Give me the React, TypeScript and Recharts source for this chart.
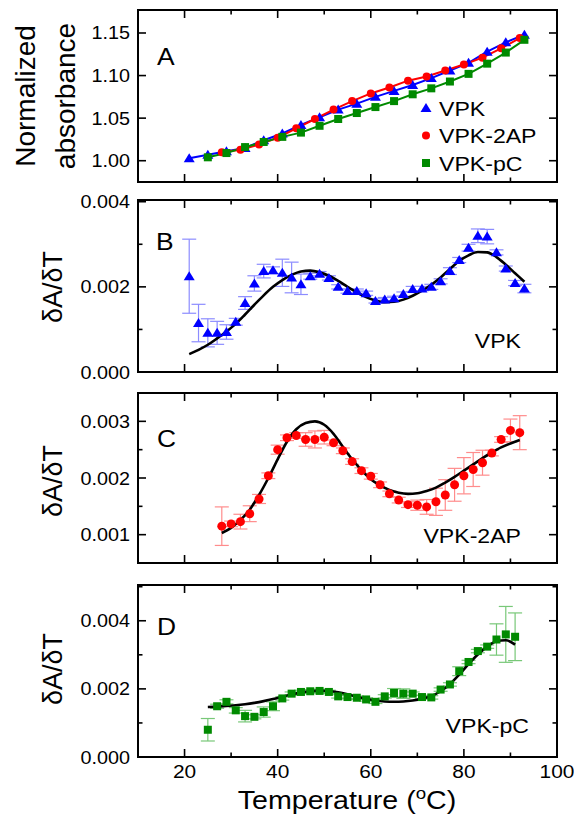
import React from "react";
import { ComposedChart, Line, Scatter, XAxis, YAxis, ErrorBar } from "recharts";

const W = 574;
const H = 817;
const PL = 138; // frame left
const PR = 557; // frame right
const FONT = "'Liberation Sans', Arial, Helvetica, sans-serif";
const STRETCH = 1.1; // the original lettering is a bit wide

// ---- A: normalized absorbance
const tempA_VPK = [21, 25, 29, 33, 37, 41, 45, 49, 53, 57, 61, 65, 69, 73, 77, 81, 85, 89, 93];
const absA_VPK = [1.003, 1.007, 1.011, 1.015, 1.024, 1.032, 1.042, 1.051, 1.06, 1.067, 1.075, 1.082, 1.089, 1.097, 1.106, 1.115, 1.128, 1.139, 1.148];
const tempA_2AP = [28, 32, 36, 40, 44, 48, 52, 56, 60, 64, 68, 72, 76, 80, 84, 88, 92];
const absA_2AP = [1.01, 1.013, 1.019, 1.027, 1.038, 1.049, 1.06, 1.07, 1.079, 1.086, 1.094, 1.099, 1.106, 1.113, 1.121, 1.132, 1.144];
const tempA_pC = [25, 29, 33, 37, 41, 45, 49, 53, 57, 61, 65, 69, 73, 77, 81, 85, 89, 93];
const absA_pC = [1.004, 1.009, 1.016, 1.022, 1.028, 1.033, 1.041, 1.049, 1.056, 1.063, 1.07, 1.078, 1.085, 1.093, 1.102, 1.114, 1.127, 1.142];

// ---- B: VPK derivative
const tempB = [21, 23, 25, 27, 29, 31, 33, 35, 37, 39, 41, 43, 45, 47, 49, 51, 53, 55, 57, 59, 61, 63, 65, 67, 69, 71, 73, 75, 77, 79, 81, 83, 85, 87, 89, 91, 93];
const dAdT_B = [0.00225, 0.00115, 0.00092, 0.00092, 0.00094, 0.00118, 0.00162, 0.00208, 0.00237, 0.00239, 0.00233, 0.00222, 0.00206, 0.00225, 0.00231, 0.00221, 0.002, 0.0019, 0.0019, 0.00185, 0.00167, 0.0017, 0.00173, 0.00183, 0.00195, 0.00196, 0.002, 0.00213, 0.00237, 0.00263, 0.00292, 0.0032, 0.00318, 0.00281, 0.00243, 0.00209, 0.00196];
const errB = [0.00087, 0.00044, 0.00033, 0.00027, 0.00017, 0.00008, 0.00015, 0.00018, 0.00016, 0.00008, 0.00032, 0.00036, 0.00024, 0.00007, 0.00005, 0.00005, 0.00005, 0.00005, 0.00005, 0.00005, 0.00005, 0.00005, 0.00005, 0.00005, 0.00006, 0.00005, 0.00006, 0.00006, 0.00008, 0.00006, 0.00008, 0.00016, 0.00017, 0.00006, 0.00006, 0.00006, 0.0001];
const fitB = [0.00042, 0.00052, 0.00064, 0.00079, 0.00095, 0.00113, 0.00135, 0.00158, 0.0018, 0.002, 0.00216, 0.00228, 0.00236, 0.00238, 0.00234, 0.00226, 0.00214, 0.002, 0.00187, 0.00176, 0.00168, 0.00164, 0.00165, 0.0017, 0.00179, 0.00191, 0.00205, 0.00222, 0.00242, 0.00261, 0.00274, 0.00282, 0.00281, 0.0027, 0.00252, 0.00232, 0.00212];

// ---- C: VPK-2AP derivative
const tempC = [28, 30, 32, 34, 36, 38, 40, 42, 44, 46, 48, 50, 52, 54, 56, 58, 60, 62, 64, 66, 68, 70, 72, 74, 76, 78, 80, 82, 84, 86, 88, 90, 92];
const dAdT_C = [0.00115, 0.00119, 0.00123, 0.00137, 0.00163, 0.00204, 0.0025, 0.00271, 0.00275, 0.00268, 0.00268, 0.00272, 0.00262, 0.00248, 0.00229, 0.00213, 0.00203, 0.00188, 0.00172, 0.00161, 0.00153, 0.00152, 0.00149, 0.00158, 0.0017, 0.00188, 0.00204, 0.00215, 0.00227, 0.00244, 0.00268, 0.00284, 0.0028];
const errC = [0.00034, 0.00005, 0.00013, 0.00014, 0.00008, 0.00005, 0.00008, 0.00005, 0.00005, 0.00012, 0.00015, 0.00012, 0.00005, 0.00005, 0.00005, 0.00005, 0.00005, 0.00005, 0.00005, 0.00005, 0.00005, 0.00009, 0.00013, 0.00024, 0.00027, 0.00029, 0.00032, 0.0003, 0.00022, 0.00005, 0.00005, 0.0002, 0.0003];
const fitC = [0.00103, 0.00112, 0.00126, 0.00144, 0.0017, 0.002, 0.00233, 0.00264, 0.00286, 0.00297, 0.003, 0.00294, 0.00278, 0.00255, 0.00233, 0.00214, 0.00198, 0.00187, 0.00179, 0.00174, 0.00172, 0.00173, 0.00177, 0.00183, 0.00192, 0.00202, 0.00213, 0.00224, 0.00235, 0.00245, 0.00254, 0.00261, 0.00267];

// ---- D: VPK-pC derivative
const tempD = [25, 27, 29, 31, 33, 35, 37, 39, 41, 43, 45, 47, 49, 51, 53, 55, 57, 59, 61, 63, 65, 67, 69, 71, 73, 75, 77, 79, 81, 83, 85, 87, 89, 91];
const dAdT_D = [0.0008, 0.00149, 0.00162, 0.00137, 0.0012, 0.00118, 0.00132, 0.00149, 0.00172, 0.00186, 0.00191, 0.00193, 0.00194, 0.00191, 0.00178, 0.00176, 0.00174, 0.00169, 0.00162, 0.00178, 0.00188, 0.00186, 0.00186, 0.00176, 0.00175, 0.00198, 0.00213, 0.00252, 0.00279, 0.00311, 0.00324, 0.00345, 0.0036, 0.00353];
const errD = [0.00033, 0.00006, 0.00006, 0.00008, 0.00017, 0.00006, 0.00015, 0.00013, 0.00005, 0.00005, 0.00005, 0.00005, 0.00005, 0.00005, 0.00005, 0.00005, 0.00005, 0.00005, 0.00005, 0.00005, 0.00013, 0.00014, 0.00005, 0.00005, 0.00005, 0.00005, 0.00005, 0.00013, 0.00005, 0.00005, 0.00005, 0.00046, 0.00082, 0.0007];
const fitD = [0.00147, 0.00148, 0.0015, 0.00152, 0.00155, 0.00159, 0.00164, 0.0017, 0.00177, 0.00184, 0.00189, 0.00193, 0.00195, 0.00194, 0.0019, 0.00184, 0.00177, 0.00171, 0.00166, 0.00163, 0.00162, 0.00163, 0.00166, 0.00171, 0.00179, 0.00193, 0.00214, 0.00242, 0.00273, 0.00301, 0.00324, 0.0034, 0.00343, 0.0033];

const X_TICKS = [20, 30, 40, 50, 60, 70, 80, 90, 100];
const X_MAJORS = [20, 40, 60, 80, 100];

const BLUE = "#0000ff";
const RED = "#ff0000";
const GREEN = "#008a00";

const pts = (ts: number[], vs: number[]) => ts.map((t, i) => ({ t, v: vs[i] }));
const rows = (ts: number[], vs: number[], es: number[], fs: number[]) =>
  ts.map((t, i) => ({ t, v: vs[i], err: es[i], fit: fs[i] }));

const isIn = (v: number, arr: number[]) => arr.some((a) => Math.abs(a - v) < 1e-9);

// marker shapes
const Tri = ({ cx, cy, fill, s = 5 }: any) => (
  <path d={`M${cx},${cy - s} L${cx + s * 1.1},${cy + s * 0.8} L${cx - s * 1.1},${cy + s * 0.8} Z`} fill={fill} />
);
const Dot = ({ cx, cy, fill, s = 4.5 }: any) => <circle cx={cx} cy={cy} r={s} fill={fill} />;
const Sq = ({ cx, cy, fill, s = 4 }: any) => <rect x={cx - s} y={cy - s} width={s * 2} height={s * 2} fill={fill} />;

const AXIS = { stroke: "#000", strokeWidth: 2, strokeLinecap: "square" as const };

const leftTick = (majors: number[], digits: number) => (p: any) => {
  const v = p.payload.value;
  const major = isIn(v, majors);
  return (
    <g>
      <line x1={PL} x2={PL + (major ? 8 : 4.5)} y1={p.y} y2={p.y} stroke="#000" strokeWidth={1.6} />
      {major && (
        <text transform={`translate(${PL - 8},${p.y + 6.5}) scale(${STRETCH},1)`} textAnchor="end" fontSize={18} fontFamily={FONT} fill="#000">
          {v.toFixed(digits)}
        </text>
      )}
    </g>
  );
};

const rightTick = (majors: number[]) => (p: any) => {
  const major = isIn(p.payload.value, majors);
  return <line x1={PR} x2={PR - (major ? 8 : 4.5)} y1={p.y} y2={p.y} stroke="#000" strokeWidth={1.6} />;
};

const bottomTick = (pb: number, labels: boolean) => (p: any) => {
  const v = p.payload.value;
  const major = isIn(v, X_MAJORS);
  return (
    <g>
      <line x1={p.x} x2={p.x} y1={pb} y2={pb - (major ? 8 : 4.5)} stroke="#000" strokeWidth={1.6} />
      {labels && major && (
        <text transform={`translate(${p.x},${pb + 21}) scale(${STRETCH},1)`} textAnchor="middle" fontSize={19} fontFamily={FONT} fill="#000">
          {v}
        </text>
      )}
    </g>
  );
};

const topTick = (pt: number) => (p: any) => {
  const major = isIn(p.payload.value, X_MAJORS);
  return <line x1={p.x} x2={p.x} y1={pt} y2={pt + (major ? 8 : 4.5)} stroke="#000" strokeWidth={1.6} />;
};

const frameAxes = (pt: number, pb: number, domain: [number, number], ticks: number[], majors: number[], digits: number, xLabels: boolean) => [
  <XAxis key="xb" xAxisId="b" type="number" dataKey="t" domain={[10, 100]} ticks={X_TICKS} interval={0} orientation="bottom" height={1} axisLine={AXIS} tickLine={false} tick={bottomTick(pb, xLabels)} allowDataOverflow />,
  <XAxis key="xt" xAxisId="t" type="number" dataKey="t" domain={[10, 100]} ticks={X_TICKS} interval={0} orientation="top" height={1} axisLine={AXIS} tickLine={false} tick={topTick(pt)} allowDataOverflow />,
  <YAxis key="yl" yAxisId="l" type="number" domain={domain} ticks={ticks} interval={0} orientation="left" width={1} axisLine={AXIS} tickLine={false} tick={leftTick(majors, digits)} allowDataOverflow />,
  <YAxis key="yr" yAxisId="r" type="number" domain={domain} ticks={ticks} interval={0} orientation="right" width={1} axisLine={AXIS} tickLine={false} tick={rightTick(majors)} allowDataOverflow />,
];

const margins = (pt: number, pb: number) => ({ top: pt - 1, bottom: H - pb - 1, left: PL - 1, right: W - PR - 1 });

const layer: React.CSSProperties = { position: "absolute", left: 0, top: 0 };

function DerivPanel({ pt, pb, domain, ticks, majors, data, color, errColor, Shape, xLabels }: any) {
  return (
    <div style={layer}>
      <ComposedChart width={W} height={H} data={data} margin={margins(pt, pb)}>
        {frameAxes(pt, pb, domain, ticks, majors, 3, xLabels)}
        <Scatter xAxisId="b" yAxisId="l" dataKey="v" isAnimationActive={false} shape={(p: any) => <Shape cx={p.cx} cy={p.cy} fill={color} />}>
          <ErrorBar dataKey="err" direction="y" width={7} stroke={errColor} strokeWidth={1.2} />
        </Scatter>
        <Line xAxisId="b" yAxisId="l" dataKey="fit" type="monotone" stroke="#000" strokeWidth={2.6} dot={false} isAnimationActive={false} />
      </ComposedChart>
    </div>
  );
}

const seriesA = [
  { name: "VPK", color: BLUE, Shape: Tri, data: pts(tempA_VPK, absA_VPK) },
  { name: "VPK-2AP", color: RED, Shape: Dot, data: pts(tempA_2AP, absA_2AP) },
  { name: "VPK-pC", color: GREEN, Shape: Sq, data: pts(tempA_pC, absA_pC) },
];

function HText({ x, y, size, anchor = "start", children }: any) {
  return (
    <text transform={`translate(${x},${y}) scale(${STRETCH},1)`} textAnchor={anchor} fontSize={size}>
      {children}
    </text>
  );
}

function VText({ x, y, size, children }: any) {
  return (
    <text transform={`translate(${x},${y}) rotate(-90)`} textAnchor="middle" fontSize={size}>
      {children}
    </text>
  );
}

export default function App() {
  const pA = { pt: 10, pb: 182 };
  return (
    <div style={{ position: "absolute", left: 0, top: 0, width: W, height: H, background: "#fff", overflow: "hidden" }}>
      {/* A */}
      <div style={layer}>
        <ComposedChart width={W} height={H} margin={margins(pA.pt, pA.pb)}>
          {frameAxes(pA.pt, pA.pb, [0.975, 1.177], [1.0, 1.05, 1.1, 1.15], [1.0, 1.05, 1.1, 1.15], 2, false)}
          {seriesA.map((s) => (
            <Line
              key={s.name}
              xAxisId="b"
              yAxisId="l"
              data={s.data}
              dataKey="v"
              name={s.name}
              type="linear"
              stroke={s.color}
              strokeWidth={2}
              isAnimationActive={false}
              dot={(p: any) => <s.Shape key={p.index} cx={p.cx} cy={p.cy} fill={s.color} s={s.Shape === Tri ? 5 : 4} />}
            />
          ))}
        </ComposedChart>
      </div>

      <DerivPanel pt={200} pb={372} domain={[0, 0.00404]} ticks={[0, 0.001, 0.002, 0.003, 0.004]} majors={[0, 0.002, 0.004]}
        data={rows(tempB, dAdT_B, errB, fitB)} color={BLUE} errColor="#8c8cff" Shape={Tri} xLabels={false} />
      <DerivPanel pt={393} pb={563} domain={[0.0005, 0.0035]} ticks={[0.001, 0.0015, 0.002, 0.0025, 0.003]} majors={[0.001, 0.002, 0.003]}
        data={rows(tempC, dAdT_C, errC, fitC)} color={RED} errColor="#ff8c8c" Shape={Dot} xLabels={false} />
      <DerivPanel pt={585} pb={757} domain={[0, 0.00505]} ticks={[0, 0.001, 0.002, 0.003, 0.004, 0.005]} majors={[0, 0.002, 0.004]}
        data={rows(tempD, dAdT_D, errD, fitD)} color={GREEN} errColor="#78c878" Shape={Sq} xLabels={true} />

      <svg width={W} height={H} style={{ ...layer, pointerEvents: "none", fontFamily: FONT }} fill="#000">
        <VText x={35} y={96} size={28}>Normalized</VText>
        <VText x={75} y={96} size={28}>absorbance</VText>
        <VText x={62} y={287} size={27}>δA/δT</VText>
        <VText x={62} y={481} size={27}>δA/δT</VText>
        <VText x={62} y={669} size={27}>δA/δT</VText>

        <HText x={157} y={65} size={24}>A</HText>
        <HText x={156} y={250} size={24}>B</HText>
        <HText x={157} y={447} size={24}>C</HText>
        <HText x={157} y={635} size={24}>D</HText>

        <HText x={521} y={348} size={21} anchor="end">VPK</HText>
        <HText x={521} y={543} size={21} anchor="end">VPK-2AP</HText>
        <HText x={529} y={733} size={21} anchor="end">VPK-pC</HText>

        {seriesA.map((s, i) => (
          <g key={s.name}>
            <s.Shape cx={426} cy={108 + i * 27.5} fill={s.color} s={s.Shape === Tri ? 5 : 4} />
            <HText x={439} y={108 + i * 27.5 + 7.5} size={21}>{s.name}</HText>
          </g>
        ))}

        <text transform={`translate(347,809) scale(${STRETCH},1)`} textAnchor="middle" fontSize={26}>
          Temperature (<tspan fontSize={17} dy={-10}>o</tspan><tspan dy={10}>C)</tspan>
        </text>
      </svg>
    </div>
  );
}
